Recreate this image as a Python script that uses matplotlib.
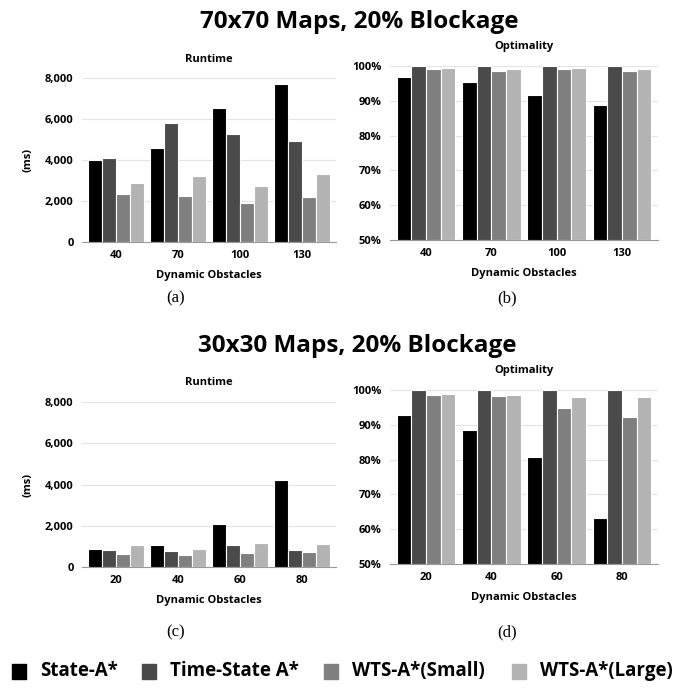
import numpy as np
import matplotlib
matplotlib.use("Agg")
from matplotlib import pyplot as plt
from matplotlib.patches import Rectangle
from matplotlib.ticker import FuncFormatter

plt.rcParams['font.family'] = ['Open Sans', 'DejaVu Sans']
plt.rcParams['font.weight'] = 'bold'

series_names = ['State-A*', 'Time-State A*', 'WTS-A*(Small)', 'WTS-A*(Large)']
series_colors = ['#000000', '#4a4a4a', '#7f7f7f', '#b3b3b3']

# 70x70 maps
obstacles_70 = ['40', '70', '100', '130']
runtime_70 = [
    [3980, 4570, 6540, 7720],   # State-A*
    [4120, 5810, 5270, 4930],   # Time-State A*
    [2340, 2260, 1900, 2180],   # WTS-A*(Small)
    [2860, 3240, 2750, 3300],   # WTS-A*(Large)
]
optimality_70 = [
    [96.7, 95.4, 91.7, 88.8],
    [100.0, 100.0, 100.0, 100.0],
    [99.0, 98.6, 99.1, 98.6],
    [99.4, 99.2, 99.3, 99.1],
]

# 30x30 maps
obstacles_30 = ['20', '40', '60', '80']
runtime_30 = [
    [890, 1050, 2070, 4200],
    [840, 760, 1080, 810],
    [630, 580, 700, 730],
    [1080, 860, 1180, 1130],
]
optimality_30 = [
    [92.7, 88.4, 80.7, 63.1],
    [100.0, 100.0, 100.0, 100.0],
    [98.7, 98.3, 94.7, 92.1],
    [98.8, 98.7, 98.0, 97.9],
]

W, H = 676, 692
fig = plt.figure(figsize=(W / 100, H / 100), dpi=100)


def px_axes(x0, y0, x1, y1):
    # pixel box (top-left origin) -> figure axes
    return fig.add_axes([x0 / W, 1 - y1 / H, (x1 - x0) / W, (y1 - y0) / H])


def bar_panel(ax, cats, data, ylim, ticks, fmt, title, title_y):
    x = np.arange(len(cats))
    w = 0.225
    for i, vals in enumerate(data):
        ax.bar(x + (i - 1.5) * w, np.array(vals) - ylim[0], w, bottom=ylim[0],
               color=series_colors[i], edgecolor='white', linewidth=0.8, zorder=3)
    ax.set_xlim(-0.55, len(cats) - 0.45)
    ax.set_ylim(*ylim)
    ax.set_yticks(ticks)
    ax.yaxis.set_major_formatter(FuncFormatter(fmt))
    ax.set_xticks(x)
    ax.set_xticklabels(cats)
    ax.grid(axis='y', color='#e3e3e3', linewidth=0.8, zorder=0)
    for s in ['top', 'right', 'left']:
        ax.spines[s].set_visible(False)
    ax.spines['bottom'].set_color('#999999')
    ax.tick_params(length=0, labelsize=8, pad=6)
    for t in ax.get_xticklabels() + ax.get_yticklabels():
        t.set_fontweight('bold')
    ax.set_xlabel('Dynamic Obstacles', fontsize=8, fontweight='bold', labelpad=6)
    ax.text(0.5, title_y, title, transform=ax.transAxes, ha='center', va='center',
            fontsize=8, fontweight='bold')


ms_fmt = lambda v, p: f'{int(v):,}'
pct_fmt = lambda v, p: f'{int(v)}%'

ax_a = px_axes(82, 78, 336, 242)
bar_panel(ax_a, obstacles_70, runtime_70, (0, 8000), [0, 2000, 4000, 6000, 8000], ms_fmt, 'Runtime', 1.11)
ax_a.set_ylabel('(ms)', fontsize=8, fontweight='bold', labelpad=8)

ax_b = px_axes(390, 66, 658, 240)
bar_panel(ax_b, obstacles_70, optimality_70, (50, 100), [50, 60, 70, 80, 90, 100], pct_fmt, 'Optimality', 1.11)

ax_c = px_axes(82, 402, 336, 567)
bar_panel(ax_c, obstacles_30, runtime_30, (0, 8000), [0, 2000, 4000, 6000, 8000], ms_fmt, 'Runtime', 1.12)
ax_c.set_ylabel('(ms)', fontsize=8, fontweight='bold', labelpad=8)

ax_d = px_axes(390, 390, 658, 564)
bar_panel(ax_d, obstacles_30, optimality_30, (50, 100), [50, 60, 70, 80, 90, 100], pct_fmt, 'Optimality', 1.11)

# section titles
fig.text(359 / W, 1 - 22 / H, '70x70 Maps, 20% Blockage', ha='center', va='center',
         fontsize=17.5, fontweight='bold')
fig.text(357 / W, 1 - 346 / H, '30x30 Maps, 20% Blockage', ha='center', va='center',
         fontsize=17.5, fontweight='bold')

# captions
for label, cx, cy in [('(a)', 176, 298), ('(b)', 507, 298), ('(c)', 176, 632), ('(d)', 507, 632)]:
    fig.text(cx / W, 1 - cy / H, label, ha='center', va='center', fontsize=12,
             family='Liberation Serif', fontweight='normal')

# legend
leg_x = [12, 142, 324, 512]
for name, col, lx in zip(series_names, series_colors, leg_x):
    fig.patches.append(Rectangle((lx / W, 1 - 679 / H), 14 / W, 15 / H,
                                 transform=fig.transFigure, color=col, figure=fig))
    fig.text((lx + 28) / W, 1 - 671 / H, name, ha='left', va='center',
             fontsize=13.5, fontweight='bold')

fig.savefig('out.png', dpi=100, facecolor='white')
